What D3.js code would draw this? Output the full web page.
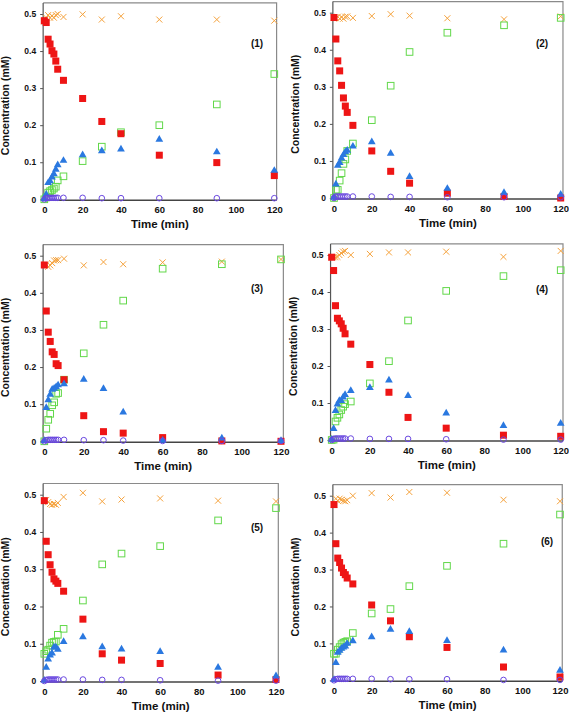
<!DOCTYPE html>
<html>
<head>
<meta charset="utf-8">
<script src="https://cdn.jsdelivr.net/npm/d3@7"></script>
<style>
  html, body { margin: 0; padding: 0; background: #fff; }
  svg { display: block; }
  text { font-family: "Liberation Sans", Arial, sans-serif; font-weight: bold; fill: #111; }
</style>
</head>
<body>
<svg id="chart" width="569" height="718"></svg>
<script>
// ---- data ----
const times = [0, 1, 2, 3, 4, 5, 6, 7, 10, 20, 30, 40, 60, 90, 120];
const xTicks = [0, 20, 40, 60, 80, 100, 120];
const yTicks = [0, 0.1, 0.2, 0.3, 0.4, 0.5];
const yTickLabels = ["0", "0.1", "0.2", "0.3", "0.4", "0.5"];
const panelLabels = ["(1)", "(2)", "(3)", "(4)", "(5)", "(6)"];
const xTitle = "Time (min)";
const yTitle = "Concentration (mM)";

// red filled squares
const red = [
  [0.482, 0.477, 0.432, 0.419, 0.401, 0.392, 0.373, 0.351, 0.321, 0.272, 0.210, 0.177, 0.119, 0.099, 0.064],
  [0.487, 0.429, 0.370, 0.343, 0.304, 0.270, 0.248, 0.231, 0.196, 0.127, 0.072, 0.040, 0.013, 0.004, 0.000],
  [0.475, 0.351, 0.294, 0.269, 0.241, 0.234, 0.209, 0.204, 0.166, 0.069, 0.026, 0.022, 0.010, 0.001, 0.000],
  [0.494, 0.458, 0.363, 0.329, 0.322, 0.314, 0.302, 0.287, 0.259, 0.204, 0.129, 0.061, 0.032, 0.013, 0.010],
  [0.484, 0.375, 0.339, 0.312, 0.292, 0.274, 0.268, 0.262, 0.241, 0.166, 0.073, 0.056, 0.047, 0.016, 0.004],
  [0.476, 0.370, 0.331, 0.319, 0.304, 0.292, 0.286, 0.277, 0.261, 0.204, 0.161, 0.118, 0.089, 0.036, 0.009]
];
// orange crosses
const orange = [
  [0.480, 0.490, 0.497, 0.490, 0.495, 0.490, 0.497, 0.500, 0.492, 0.499, 0.485, 0.494, 0.485, 0.485, 0.482],
  [0.487, 0.485, 0.489, 0.484, 0.488, 0.484, 0.489, 0.490, 0.486, 0.491, 0.496, 0.492, 0.485, 0.482, 0.490],
  [0.475, 0.477, 0.470, 0.474, 0.480, 0.487, 0.488, 0.488, 0.492, 0.474, 0.483, 0.477, 0.482, 0.484, 0.490],
  [0.494, 0.494, 0.494, 0.495, 0.500, 0.505, 0.509, 0.511, 0.500, 0.503, 0.507, 0.507, 0.509, 0.495, 0.511],
  [0.484, 0.486, 0.480, 0.475, 0.473, 0.475, 0.473, 0.478, 0.494, 0.505, 0.482, 0.487, 0.490, 0.484, 0.482],
  [0.476, 0.492, 0.486, 0.492, 0.489, 0.486, 0.485, 0.488, 0.500, 0.507, 0.495, 0.510, 0.508, 0.489, 0.485]
];
// blue filled triangles
const blue = [
  [0.000, 0.012, 0.043, 0.048, 0.058, 0.067, 0.079, 0.091, 0.103, 0.118, 0.129, 0.134, 0.160, 0.126, 0.076],
  [0.000, 0.036, 0.086, 0.094, 0.106, 0.115, 0.123, 0.127, 0.138, 0.150, 0.119, 0.056, 0.024, 0.013, 0.008],
  [0.000, 0.089, 0.110, 0.125, 0.138, 0.141, 0.145, 0.150, 0.153, 0.165, 0.140, 0.077, 0.001, 0.007, 0.000],
  [0.000, 0.029, 0.078, 0.095, 0.105, 0.105, 0.114, 0.121, 0.132, 0.140, 0.160, 0.118, 0.071, 0.037, 0.043],
  [0.000, 0.035, 0.057, 0.068, 0.073, 0.089, 0.089, 0.083, 0.104, 0.117, 0.090, 0.084, 0.077, 0.035, 0.012],
  [0.000, 0.046, 0.074, 0.079, 0.085, 0.088, 0.091, 0.098, 0.105, 0.116, 0.136, 0.130, 0.106, 0.080, 0.025]
];
// green open squares
const green = [
  [0.000, 0.005, 0.018, 0.022, 0.025, 0.029, 0.034, 0.051, 0.062, 0.103, 0.142, 0.181, 0.200, 0.256, 0.338],
  [0.000, 0.022, 0.022, 0.047, 0.067, 0.092, 0.104, 0.127, 0.147, 0.210, 0.303, 0.394, 0.446, 0.466, 0.486],
  [0.000, 0.034, 0.058, 0.074, 0.097, 0.105, 0.128, 0.130, 0.166, 0.237, 0.314, 0.379, 0.465, 0.477, 0.490],
  [0.000, 0.001, 0.050, 0.060, 0.069, 0.081, 0.090, 0.097, 0.104, 0.153, 0.213, 0.323, 0.403, 0.443, 0.459],
  [0.073, 0.080, 0.084, 0.095, 0.103, 0.105, 0.106, 0.124, 0.140, 0.216, 0.313, 0.342, 0.362, 0.431, 0.464],
  [0.072, 0.072, 0.083, 0.090, 0.098, 0.102, 0.104, 0.106, 0.128, 0.181, 0.193, 0.255, 0.310, 0.370, 0.449]
];
// purple open circles
const purple = [
  [0.000, 0.003, 0.004, 0.004, 0.004, 0.004, 0.004, 0.004, 0.004, 0.004, 0.003, 0.003, 0.003, 0.003, 0.003],
  [0.000, 0.004, 0.004, 0.004, 0.004, 0.004, 0.004, 0.004, 0.004, 0.004, 0.003, 0.003, 0.002, 0.002, 0.002],
  [0.000, 0.003, 0.004, 0.004, 0.004, 0.004, 0.004, 0.004, 0.004, 0.003, 0.003, 0.002, 0.001, 0.001, 0.001],
  [0.000, 0.003, 0.004, 0.004, 0.004, 0.004, 0.004, 0.004, 0.004, 0.003, 0.003, 0.003, 0.002, 0.001, 0.001],
  [0.000, 0.003, 0.004, 0.004, 0.004, 0.004, 0.004, 0.004, 0.004, 0.004, 0.003, 0.003, 0.002, 0.001, 0.001],
  [0.000, 0.003, 0.004, 0.004, 0.004, 0.004, 0.004, 0.004, 0.004, 0.004, 0.003, 0.003, 0.003, 0.001, 0.001]
];

// ---- layout (pixel geometry per panel) ----
const layout = [
  { x0: 44.3, x1: 274.3, y0: 199.3, y1: 14.0, lx: 257, ly: 43 },
  { x0: 334.0, x1: 560.7, y0: 198.0, y1: 12.7, lx: 542, ly: 43 },
  { x0: 44.3, x1: 281.0, y0: 441.3, y1: 255.7, lx: 257, ly: 288 },
  { x0: 331.7, x1: 560.7, y0: 440.0, y1: 255.0, lx: 542, ly: 289 },
  { x0: 44.3, x1: 276.0, y0: 681.0, y1: 494.7, lx: 257, ly: 527 },
  { x0: 334.0, x1: 560.0, y0: 680.3, y1: 495.7, lx: 547, ly: 541 }
];
const colors = { red: "#ee1515", orange: "#f5a23c", blue: "#2a78e0", green: "#62d84a", purple: "#6a48e0" };

const svg = d3.select("#chart");

layout.forEach((L, i) => {
  const x = d3.scaleLinear().domain([0, 120]).range([L.x0, L.x1]);
  const y = d3.scaleLinear().domain([0, 0.5]).range([L.y0, L.y1]);
  const g = svg.append("g");

  const fx0 = x(-0.6), fx1 = x(121.2), fyTop = y(0.53), fyBot = y(0) + 1;

  // frame (top & right gray)
  g.append("path")
    .attr("d", `M${fx0},${fyTop}H${fx1}V${fyBot}`)
    .attr("fill", "none").attr("stroke", "#8a8a8a").attr("stroke-width", 1.2);

  // y axis
  const yAxis = d3.axisLeft(y).tickValues(yTicks).tickFormat((d, k) => yTickLabels[k]).tickSize(3).tickSizeOuter(0).tickPadding(4);
  const ya = g.append("g").attr("transform", `translate(${fx0},0)`).call(yAxis);
  ya.select(".domain").attr("d", `M0,${fyTop}V${fyBot}`).attr("stroke", "#555").attr("stroke-width", 1.2);
  ya.selectAll(".tick line").attr("stroke", "#555");
  ya.selectAll(".tick text").attr("font-size", 8.5).attr("font-family", "Liberation Sans, Arial, sans-serif").attr("font-weight", "bold").attr("fill", "#111");

  // x axis
  const xAxis = d3.axisBottom(x).tickValues(xTicks).tickSize(0).tickSizeOuter(0).tickPadding(6);
  const xa = g.append("g").attr("transform", `translate(0,${fyBot})`).call(xAxis);
  xa.select(".domain").attr("d", `M${fx0},0H${fx1}`).attr("stroke", "#444").attr("stroke-width", 1.4);
  xa.selectAll(".tick text").attr("font-size", 9.5).attr("font-family", "Liberation Sans, Arial, sans-serif").attr("font-weight", "bold").attr("fill", "#111");

  // titles
  g.append("text").attr("x", (fx0 + fx1) / 2 + 0).attr("y", fyBot + 28)
    .attr("text-anchor", "middle").attr("font-size", 11.5).text(xTitle);
  const ty = (fyTop + fyBot) / 2 + 4;
  const tx = fx0 - 34;
  g.append("text").attr("transform", `translate(${tx},${ty}) rotate(-90)`)
    .attr("text-anchor", "middle").attr("font-size", 10.5).text(yTitle);

  // panel label
  g.append("text").attr("x", L.lx).attr("y", L.ly + 4).attr("text-anchor", "middle")
    .attr("font-size", 10).text(panelLabels[i]);

  const pts = arr => times.map((t, k) => ({ t, v: arr[k] }));

  // orange crosses
  g.append("g").selectAll("path").data(pts(orange[i])).join("path")
    .attr("transform", d => `translate(${x(d.t)},${y(d.v)})`)
    .attr("d", "M-3,-3L3,3M-3,3L3,-3")
    .attr("stroke", colors.orange).attr("stroke-width", 1).attr("fill", "none");

  // green open squares
  g.append("g").selectAll("rect").data(pts(green[i])).join("rect")
    .attr("x", d => x(d.t) - 3.3).attr("y", d => y(d.v) - 3.3)
    .attr("width", 6.6).attr("height", 6.6)
    .attr("fill", "none").attr("stroke", colors.green).attr("stroke-width", 1);

  // red filled squares
  g.append("g").selectAll("rect").data(pts(red[i])).join("rect")
    .attr("x", d => x(d.t) - 3.5).attr("y", d => y(d.v) - 3.5)
    .attr("width", 7).attr("height", 7)
    .attr("fill", colors.red);

  // blue triangles
  const tri = d3.symbol().type(d3.symbolTriangle).size(26);
  g.append("g").selectAll("path").data(pts(blue[i])).join("path")
    .attr("transform", d => `translate(${x(d.t)},${y(d.v) - 0.5})`)
    .attr("d", tri).attr("fill", colors.blue);

  // purple open circles
  g.append("g").selectAll("circle").data(pts(purple[i])).join("circle")
    .attr("cx", d => x(d.t)).attr("cy", d => y(d.v))
    .attr("r", 2.8).attr("fill", "none").attr("stroke", colors.purple).attr("stroke-width", 1);
});
</script>
</body>
</html>
